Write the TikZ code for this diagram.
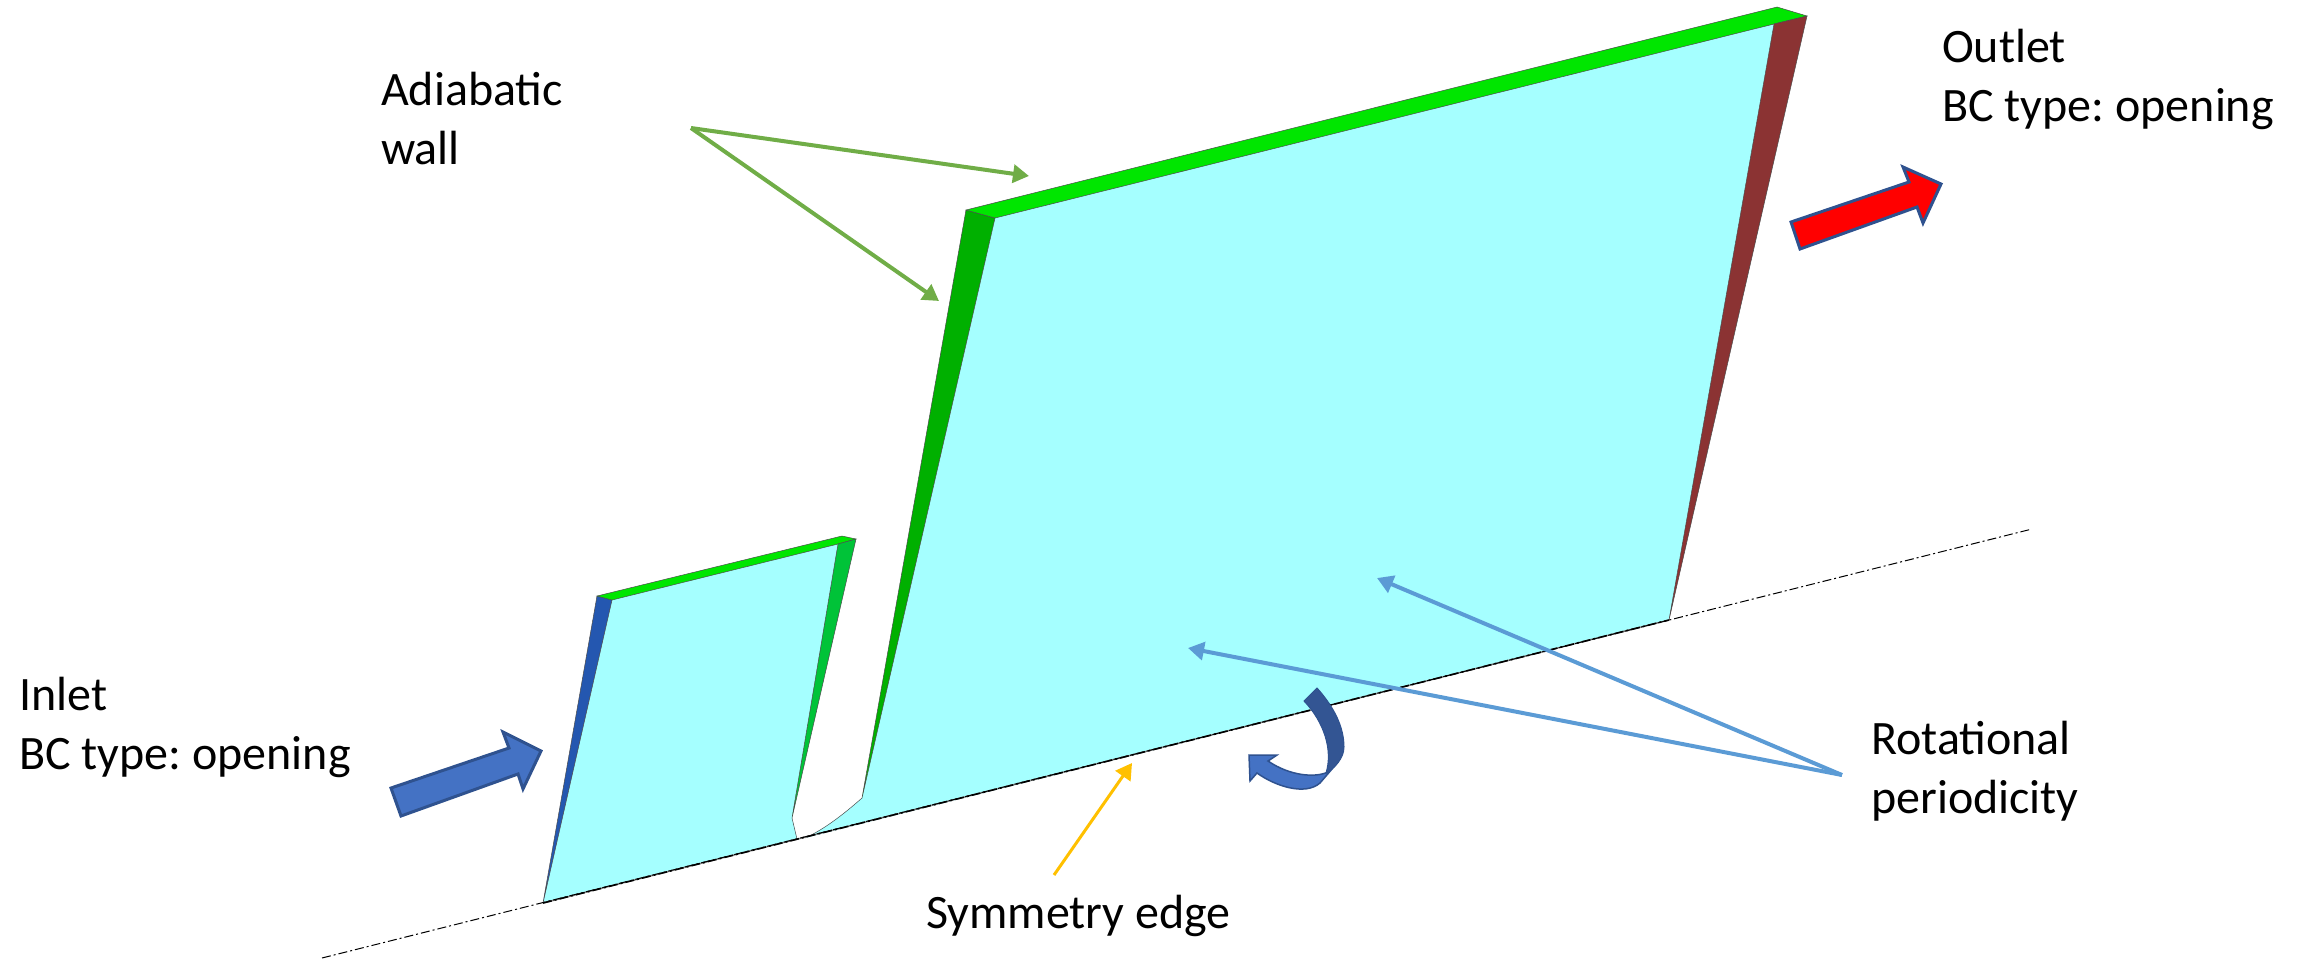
\documentclass[tikz,border=0pt]{standalone}
\usepackage{xcolor}
\usepackage{fontspec}
\setmainfont{Carlito}
\usetikzlibrary{arrows.meta,positioning,calc}
\definecolor{facecyan}{HTML}{A5FFFF}
\definecolor{topgreen}{HTML}{00E600}
\definecolor{leftgreen}{HTML}{00B000}
\definecolor{rightgreen}{HTML}{00C338}
\definecolor{outletbrown}{HTML}{8B3333}
\definecolor{inletblue}{HTML}{2457B0}
\definecolor{arrowblue}{HTML}{4472C4}
\definecolor{arrowedge}{HTML}{2F528F}
\definecolor{foldblue}{HTML}{335593}
\definecolor{wallleader}{HTML}{70AD47}
\definecolor{periodleader}{HTML}{5B9BD5}
\definecolor{symleader}{HTML}{FFC000}
\tikzset{
  label/.style={align=left, anchor=west, inner sep=0pt, font=\fontsize{48}{59}\selectfont\frenchspacing},
  surface/.style={draw=black!70, line width=0.5pt},
  leader/.style={line width=4pt, -{Triangle[length=16pt,width=18pt]}},
  flowarrow/.style={draw=arrowedge, line width=3pt, line join=miter}
}
\begin{document}
\begin{tikzpicture}[x=1pt, y=-1pt]
  \useasboundingbox (0,0) rectangle (2305,959);

  \coordinate (axisstart) at (322,958);
  \coordinate (axisend) at (2032,529);
  \coordinate (wallfrom) at (691,128);
  \coordinate (wallto1) at (1029,176);
  \coordinate (wallto2) at (939,301);
  \coordinate (periodfrom) at (1842,775);
  \coordinate (periodto1) at (1188,648);
  \coordinate (periodto2) at (1377,578);
  \coordinate (symfrom) at (1054,875);
  \coordinate (symto) at (1132,763);

  \fill[facecyan] (612,600) -- (838,544) -- (792,818) -- (797,839) -- (543,903) -- cycle;
  \draw[surface] (792,818) -- (797,839);
  \fill[surface, fill=inletblue] (597,596) -- (612,600) -- (543,903) -- cycle;
  \fill[surface, fill=topgreen] (597,596) -- (842,536) -- (856,539) -- (838,544) -- (612,600) -- cycle;
  \fill[surface, fill=rightgreen] (838,544) -- (856,539) -- (792,818) -- cycle;

  \fill[facecyan] (995,218) -- (1774,24) -- (1669,620) -- (805,838)
    .. controls (825,829) and (845,813) .. (862,798) -- cycle;
  \draw[surface] (805,838) .. controls (825,829) and (845,813) .. (862,798);
  \fill[surface, fill=leftgreen] (966,210) -- (995,218) -- (862,798) -- cycle;
  \fill[surface, fill=topgreen] (966,210) -- (1777,7) -- (1807,16) -- (1774,24) -- (995,218) -- cycle;
  \fill[surface, fill=outletbrown] (1774,24) -- (1807,16) -- (1669,620) -- cycle;

  \draw[black!45, line width=1.5pt] (543,903) -- (1669,620);
  \draw[line width=1pt, dash pattern=on 9pt off 3pt on 2pt off 3pt] (axisstart) -- (axisend);
  \draw[line width=1.6pt, dash pattern=on 9pt off 3pt on 2pt off 3pt] (543,903) -- (1669,620);

  \draw[flowarrow, fill=arrowblue] (391,788) -- (401,816) -- (518,774) -- (523,789) -- (541,751)
    -- (503,732) -- (509,748) -- cycle;
  \draw[flowarrow, fill=red] (1791,222) -- (1800,249) -- (1917,207) -- (1923,223) -- (1941,184)
    -- (1903,167) -- (1909,182) -- cycle;

  \fill[arrowblue, draw=arrowedge, line width=1.5pt] (1328,772)
    .. controls (1315,778) and (1290,776) .. (1268,761) -- (1277,755) -- (1249,755) -- (1250,781) -- (1257,773)
    .. controls (1275,786) and (1305,796) .. (1320,783) -- (1338,762) -- cycle;
  \fill[foldblue, draw=arrowedge, line width=1pt] (1304,701) -- (1317,688)
    .. controls (1335,708) and (1344,728) .. (1344,747)
    .. controls (1344,758) and (1335,768) .. (1326,773)
    .. controls (1333,750) and (1324,722) .. (1304,701) -- cycle;

  \draw[leader, wallleader] (wallfrom) -- (wallto1);
  \draw[leader, wallleader] (wallfrom) -- (wallto2);
  \draw[leader, periodleader] (periodfrom) -- (periodto1);
  \draw[leader, periodleader] (periodfrom) -- (periodto2);
  \draw[leader, symleader, line width=3pt] (symfrom) -- (symto);

  \node[label] (adiabatic) at (381,119) {Adiabatic\\wall};
  \node[label] (outlet) at (1942,79) {Outlet\\BC type: opening};
  \node[label] (inlet) at (19,727) {Inlet\\BC type: opening};
  \node[label] (rotational) at (1871,771) {Rotational\\periodicity};
  \node[label] (symmetry) at (926,916) {Symmetry edge};
\end{tikzpicture}
\end{document}
